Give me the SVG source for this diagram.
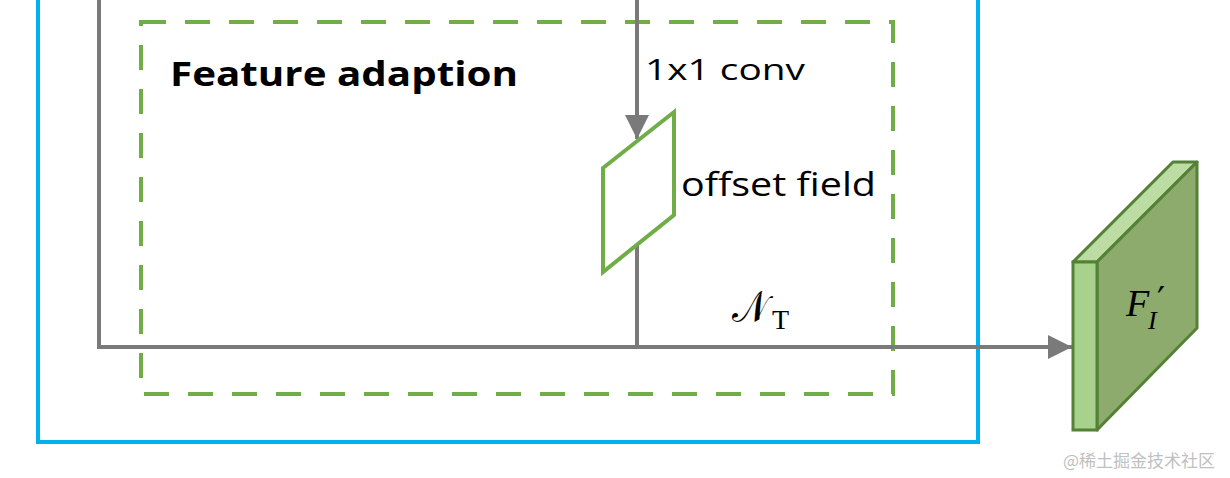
<svg xmlns="http://www.w3.org/2000/svg" width="1230" height="478" viewBox="0 0 1230 478">
<style>
.conn{fill:none;stroke:#7a7a7a;stroke-width:4}
.lbl{font-family:"Open Sans","Liberation Sans",sans-serif;fill:#000}
.math{font-family:"Liberation Serif","DejaVu Serif",serif;font-style:italic;fill:#000}
</style>
<defs>
<marker id="ah" viewBox="0 0 10 10" refX="10" refY="5" markerWidth="6" markerHeight="6" markerUnits="strokeWidth" orient="auto">
<path d="M0,0 L10,5 L0,10 Z" fill="#7a7a7a"/>
</marker>
</defs>
<rect width="1230" height="478" fill="#fff"/>
<g id="outer-box">
<rect x="38" y="-10" width="940" height="452" fill="none" stroke="#00b0f0" stroke-width="4"/>
</g>
<g id="feature-adaption">
<rect x="141" y="22" width="752" height="372" fill="none" stroke="#70ad47" stroke-width="4" stroke-dasharray="25 19"/>
<text class="lbl" x="170" y="86" font-size="34" font-weight="bold" textLength="348" lengthAdjust="spacingAndGlyphs">Feature adaption</text>
</g>
<g id="connectors">
<path class="conn" d="M99,-5 V347 H1072" marker-end="url(#ah)"/>
<path class="conn" d="M637,-5 V139" marker-end="url(#ah)"/>
<path class="conn" d="M637,244 V347"/>
</g>
<g id="conv-label">
<text class="lbl" x="645" y="80" font-size="30" textLength="160" lengthAdjust="spacingAndGlyphs">1x1 conv</text>
</g>
<g id="offset-field">
<polygon points="603,168 674,112 674,215 603,272" fill="#fff" stroke="#70ad47" stroke-width="4"/>
<text class="lbl" x="681" y="196" font-size="32" textLength="195" lengthAdjust="spacingAndGlyphs">offset field</text>
</g>
<g id="nt-label">
<text x="732" y="322" font-family="'DejaVu Serif','Liberation Serif',serif" font-size="44" fill="#000" textLength="36" lengthAdjust="spacingAndGlyphs">𝒩</text>
<text x="772" y="329" font-family="'Liberation Serif',serif" font-size="28" fill="#000">T</text>
</g>
<g id="feature-map">
<polygon points="1073,262 1173,162 1197,162 1097,262" fill="#bcdca3" stroke="#538135" stroke-width="3" stroke-linejoin="round"/>
<polygon points="1097,262 1197,162 1197,328 1097,430" fill="#8cab6c" stroke="#538135" stroke-width="3" stroke-linejoin="round"/>
<rect x="1073" y="262" width="24" height="168" fill="#a9d18e" stroke="#538135" stroke-width="3"/>
<text class="math" x="1126" y="316" font-size="38">F</text>
<text x="1157" y="312" font-family="'DejaVu Serif',serif" font-size="36" fill="#000">′</text>
<text class="math" x="1148" y="329" font-size="26">I</text>
</g>
<g id="watermark">
<text x="1063" y="467" font-family="'Noto Sans CJK SC',sans-serif" font-size="17" fill="#c0c0c0">@稀土掘金技术社区</text>
</g>
</svg>
